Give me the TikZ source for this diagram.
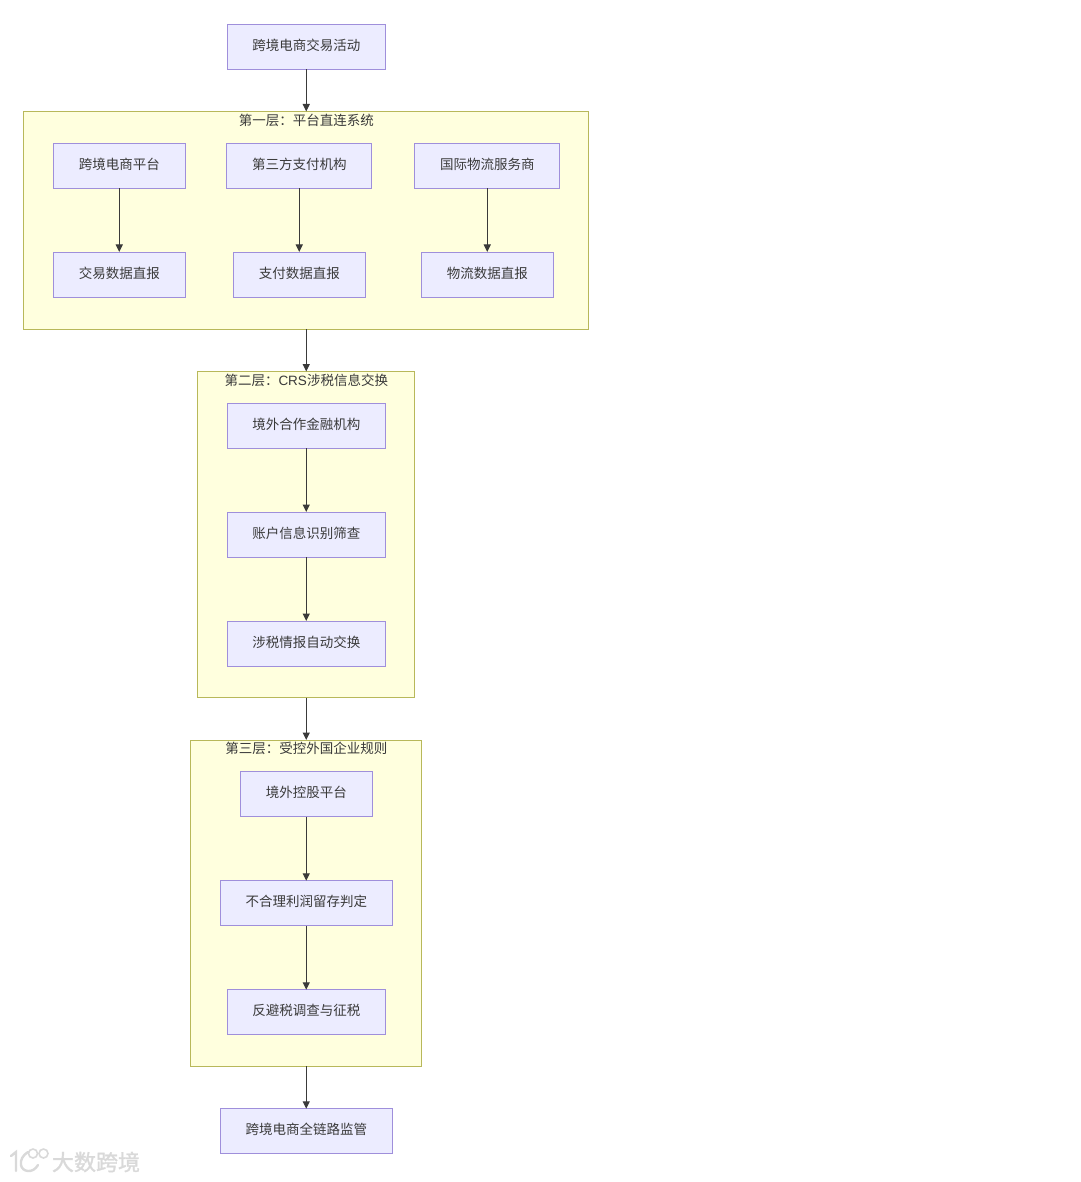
\documentclass[tikz,border=0pt]{standalone}
\usepackage{fontspec}
\usetikzlibrary{arrows.meta}
\setmainfont{Noto Sans CJK SC}
\newfontfamily\latinfont{Liberation Sans}
\newfontfamily\markfont[FakeBold=1.5]{Noto Sans CJK SC}
\definecolor{nodefill}{HTML}{ECECFF}
\definecolor{nodeline}{HTML}{9F8FDB}
\definecolor{clusterfill}{HTML}{FFFFDE}
\definecolor{clusterline}{HTML}{B8B85A}
\definecolor{ink}{HTML}{3A3A3A}
\definecolor{mark}{HTML}{D9D9D9}
\tikzset{
  flowbox/.style={draw=nodeline,fill=nodefill,line width=1pt,inner xsep=0pt,inner ysep=0pt,outer sep=0pt,
    text height=26pt,text depth=19pt,font=\fontsize{13.5pt}{16pt}\selectfont,text=ink},
  clusterbox/.style={draw=clusterline,fill=clusterfill,line width=1pt,inner sep=0pt,outer sep=0pt},
  clustertitle/.style={inner sep=0pt,font=\fontsize{13.5pt}{16pt}\selectfont,text=ink},
  flow/.style={draw=ink,line width=1pt,-{Triangle[length=7.5pt,width=7pt]},shorten >=0pt},
  markline/.style={draw=mark,line width=2.4pt,line cap=round},
  markloop/.style={draw=mark,line width=1.6pt},
  marktext/.style={inner sep=0pt,font=\markfont\fontsize{22pt}{24pt}\selectfont,text=mark}
}
\begin{document}
\begin{tikzpicture}[x=1pt,y=1pt]
\useasboundingbox (0,0) rectangle (1080,-1182);
% clusters
\node[clusterbox,minimum width=565pt,minimum height=217.5pt] (c1) at (306.25,-220.25) {};
\node[clusterbox,minimum width=217pt,minimum height=326pt] (c2) at (306.25,-534.5) {};
\node[clusterbox,minimum width=231pt,minimum height=326pt] (c3) at (306.25,-903) {};
\node[clustertitle] (t1) at (306.25,-120) {第一层：平台直连系统};
\node[clustertitle] (t2) at (306.25,-380) {第二层：{\latinfont CRS}涉税信息交换};
\node[clustertitle] (t3) at (306.25,-748.5) {第三层：受控外国企业规则};
% nodes
\node[flowbox,minimum width=158pt] (start) at (306.25,-47) {跨境电商交易活动};
\node[flowbox,minimum width=131.5pt] (a1) at (119.25,-166) {跨境电商平台};
\node[flowbox,minimum width=145pt] (b1) at (299.25,-166) {第三方支付机构};
\node[flowbox,minimum width=145pt] (d1) at (487.25,-166) {国际物流服务商};
\node[flowbox,minimum width=131.5pt] (a2) at (119.25,-274.5) {交易数据直报};
\node[flowbox,minimum width=131.5pt] (b2) at (299.25,-274.5) {支付数据直报};
\node[flowbox,minimum width=131.5pt] (d2) at (487.25,-274.5) {物流数据直报};
\node[flowbox,minimum width=158pt] (e1) at (306.25,-425.5) {境外合作金融机构};
\node[flowbox,minimum width=158pt] (e2) at (306.25,-534.5) {账户信息识别筛查};
\node[flowbox,minimum width=158pt] (e3) at (306.25,-643.5) {涉税情报自动交换};
\node[flowbox,minimum width=131.5pt] (f1) at (306.25,-794.25) {境外控股平台};
\node[flowbox,minimum width=172pt] (f2) at (306.25,-903.25) {不合理利润留存判定};
\node[flowbox,minimum width=158pt] (f3) at (306.25,-1012.25) {反避税调查与征税};
\node[flowbox,minimum width=172pt] (end) at (306.25,-1131.25) {跨境电商全链路监管};
% connectors
\draw[flow] (start) -- (c1);
\draw[flow] (a1) -- (a2);
\draw[flow] (b1) -- (b2);
\draw[flow] (d1) -- (d2);
\draw[flow] (c1) -- (c2);
\draw[flow] (e1) -- (e2);
\draw[flow] (e2) -- (e3);
\draw[flow] (c2) -- (c3);
\draw[flow] (f1) -- (f2);
\draw[flow] (f2) -- (f3);
\draw[flow] (c3) -- (end);
% watermark
\draw[markline] (11,-1156) -- (16,-1152) -- (16,-1171);
\draw[markline] (28,-1152) .. controls (23,-1155) and (20,-1160) .. (21,-1165) .. controls (22,-1172) and (33,-1174) .. (38,-1165);
\draw[markloop] (33,-1153.5) circle (4.5pt);
\draw[markloop] (43.5,-1153.5) circle (4.5pt);
\node[marktext] (wm) at (96,-1162) {大数跨境};
\end{tikzpicture}
\end{document}
